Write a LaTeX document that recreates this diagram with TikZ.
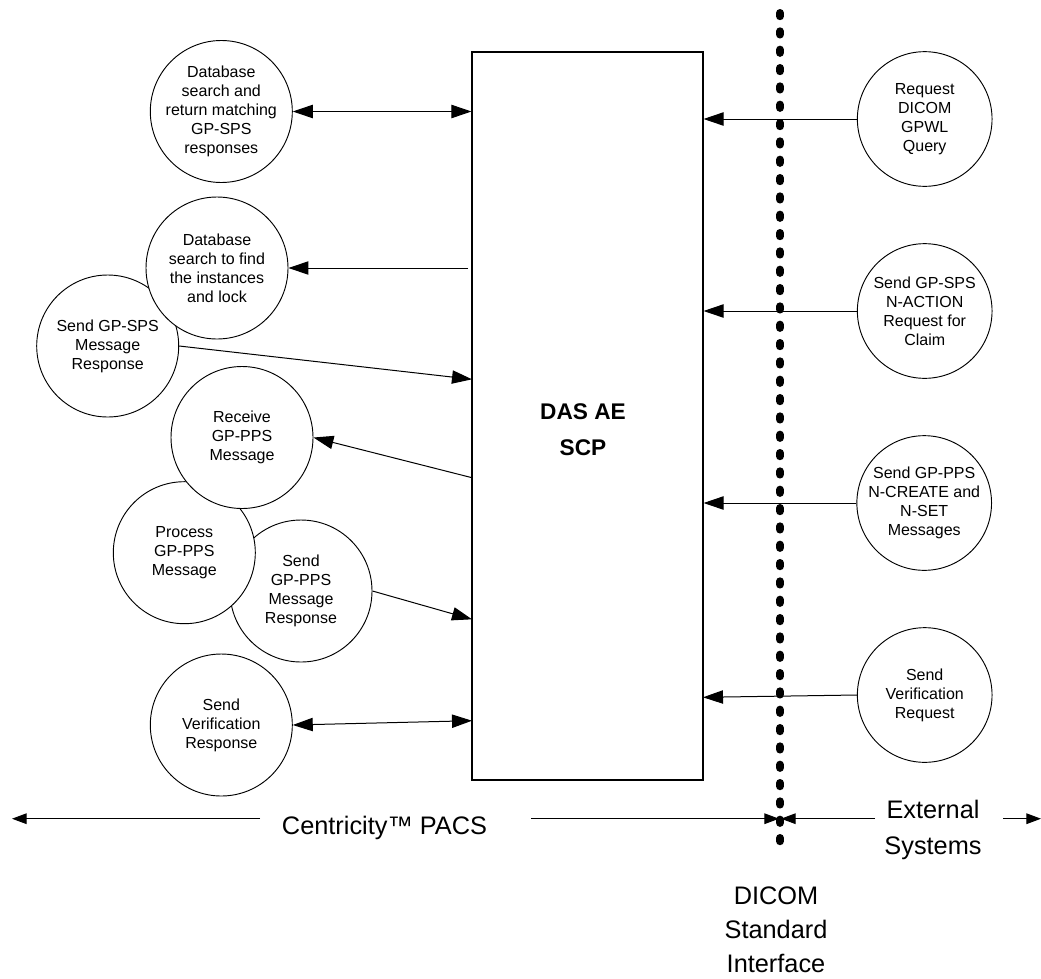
\documentclass[tikz,border=0pt]{standalone}
\usepackage{fontspec}
\setmainfont{Liberation Sans}
\usetikzlibrary{arrows.meta}
\begin{document}
\begin{tikzpicture}[x=0.75pt,y=-0.75pt,
  proc/.style={circle,draw,fill=white,line width=0.7pt,minimum size=106.5pt,inner sep=-8pt,align=center,font=\fontsize{12}{14.2}\selectfont},
  extproc/.style={proc,minimum size=101pt},
  conn/.style={line width=0.75pt,-{Triangle[length=15pt,width=10pt]}},
  both/.style={line width=0.75pt,{Triangle[length=15pt,width=10pt]}-{Triangle[length=15pt,width=10pt]}},
  span/.style={line width=0.75pt,-{Triangle[length=11pt,width=8pt]}},
  big/.style={font=\fontsize{19}{26.5}\selectfont,align=center,inner sep=0pt},
  boundary/.style={line width=6pt,line cap=round,dash pattern=on 2.4pt off 11.35pt}
]
\useasboundingbox (0,0) rectangle (1041,978);

% main box
\node[draw,line width=0.8pt,minimum width=173.25pt,minimum height=546pt,inner sep=0pt] (das) at (587.5,416) {};
\node[font=\fontsize{17}{26.8}\selectfont\bfseries,align=center,inner sep=0pt] (dastext) at (583,430) {DAS AE\\SCP};

% DICOM boundary
\coordinate (dtop) at (780,13);
\coordinate (dbot) at (780,852);
\draw[boundary] (dtop) -- (dbot);

% left circles (draw order matters for overlaps)
\node[proc] (c6) at (301,591) {Send\\GP-PPS\\Message\\Response};
\node[proc] (c5) at (184.3,552.7) {Process\\GP-PPS\\Message};
\node[proc] (c4) at (242,437.5) {Receive\\GP-PPS\\Message};
\node[proc] (c3) at (107.7,346) {Send GP-SPS\\Message\\Response};
\node[proc] (c2) at (217,268) {Database\\search to find\\the instances\\and lock};
\node[proc] (c1) at (221.3,111.5) {Database\\search and\\return matching\\GP-SPS\\responses};
\node[proc] (c7) at (221.3,725) {Send\\Verification\\Response};

% right circles
\node[extproc] (r1) at (924.7,119) {Request\\DICOM\\GPWL\\Query};
\node[extproc] (r2) at (924.7,311) {Send GP-SPS\\N-ACTION\\Request for\\Claim};
\node[extproc] (r3) at (924.2,503) {Send GP-PPS\\N-CREATE and\\N-SET\\Messages};
\node[extproc] (r4) at (924.7,695) {Send\\Verification\\Request};

% left connectors
\draw[both] (c1.east) -- (c1.east -| das.west);
\coordinate (s2) at (468,268);
\draw[conn] (s2) -- (c2.east);
\coordinate (a3) at (472,379.3);
\draw[conn] (c3.east) -- (a3);
\coordinate (s4) at (472,477.7);
\draw[conn] (s4) -- (c4.east);
\coordinate (a6) at (472,619.3);
\draw[conn] (c6.east) -- (a6);
\coordinate (a7) at (472,720.7);
\draw[both] (c7.east) -- (a7);

% right connectors
\draw[conn] (r1.west) -- (r1.west -| das.east);
\draw[conn] (r2.west) -- (r2.west -| das.east);
\draw[conn] (r3.west) -- (r3.west -| das.east);
\coordinate (a8) at (703,697.3);
\draw[conn] (r4.west) -- (a8);

% bottom labels
\node[big] (pacs) at (384.5,828) {Centricity™ PACS};
\node[big] (ext) at (933,830) {External\\Systems};
\node[big,font=\fontsize{19}{25.5}\selectfont] (dicom) at (776,930) {DICOM\\Standard\\Interface};

% bottom span arrows
\coordinate (lend) at (12,818.7);
\coordinate (l1) at (260,818.7);
\coordinate (r1s) at (531,818.7);
\coordinate (dl) at (779,818.7);
\coordinate (dr) at (781,818.7);
\coordinate (e1) at (875,818.7);
\coordinate (e2) at (1003,818.7);
\coordinate (rend) at (1041,818.7);
\draw[span] (l1) -- (lend);
\draw[span] (r1s) -- (dl);
\draw[span] (e1) -- (dr);
\draw[span] (e2) -- (rend);
\end{tikzpicture}
\end{document}
